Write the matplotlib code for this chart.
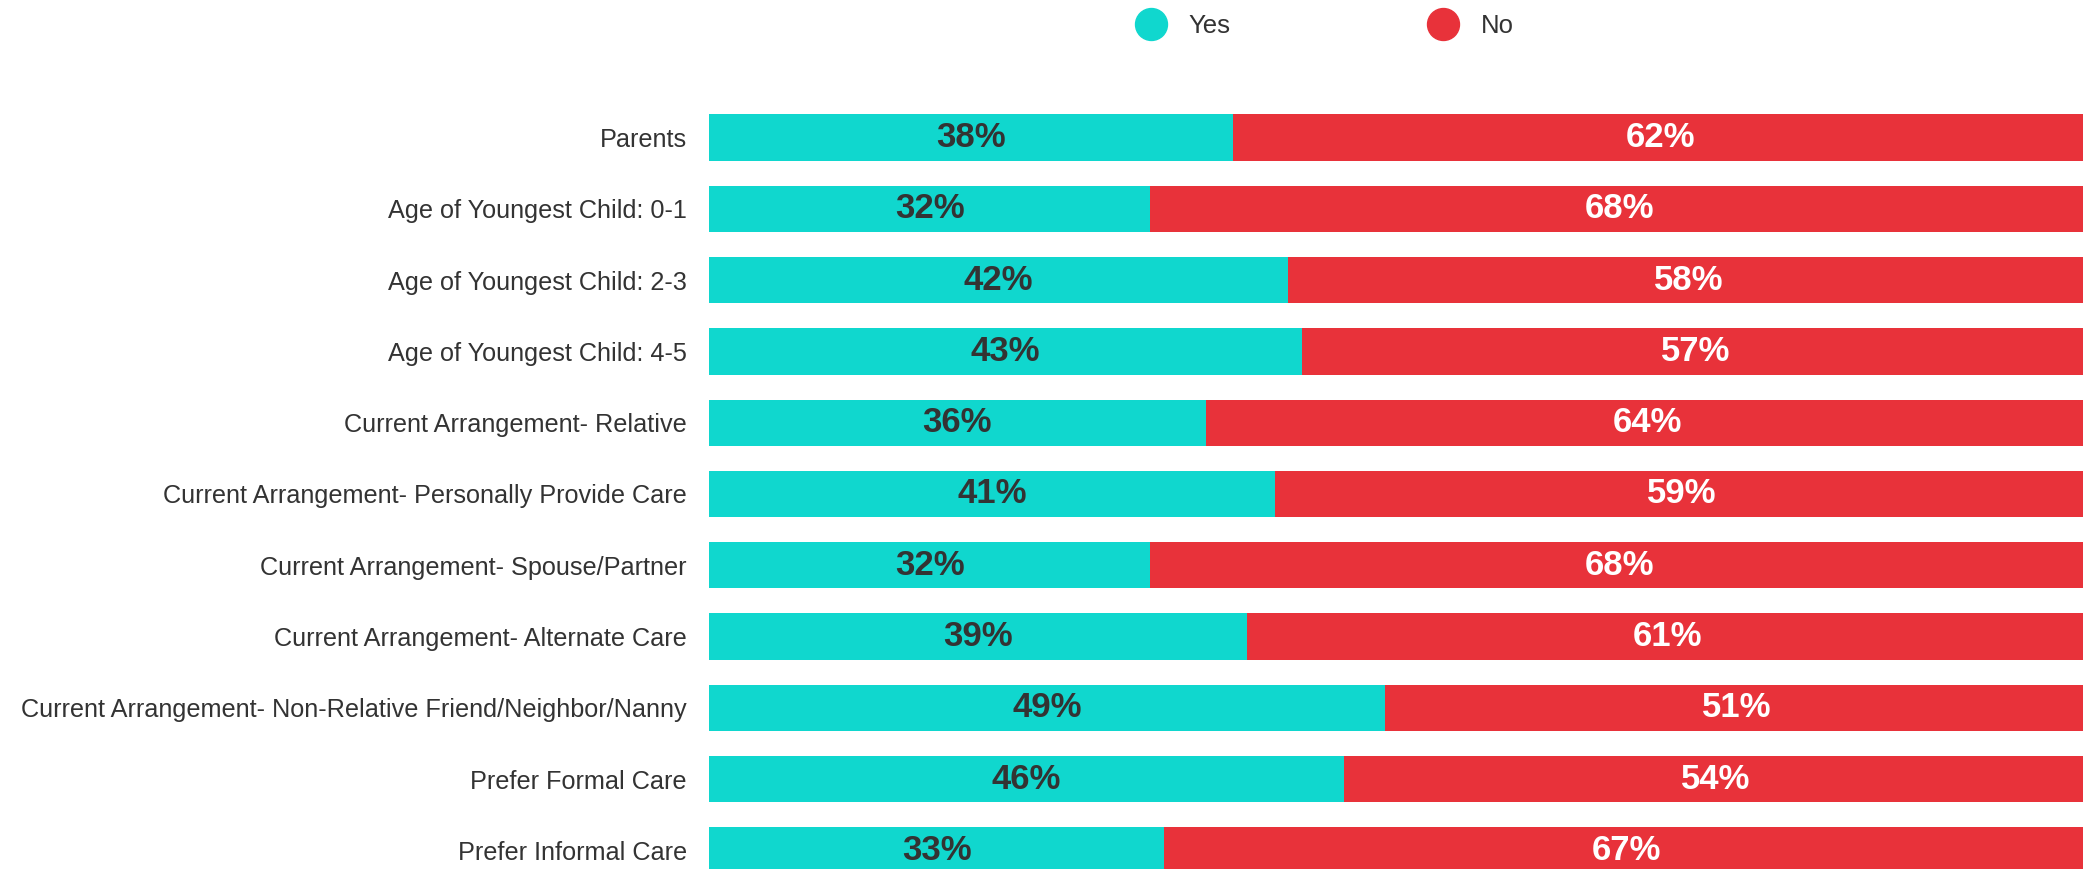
import matplotlib.pyplot as plt
from matplotlib.lines import Line2D

# Data
categories = [
    "Parents",
    "Age of Youngest Child: 0-1",
    "Age of Youngest Child: 2-3",
    "Age of Youngest Child: 4-5",
    "Current Arrangement- Relative",
    "Current Arrangement- Personally Provide Care",
    "Current Arrangement- Spouse/Partner",
    "Current Arrangement- Alternate Care",
    "Current Arrangement- Non-Relative Friend/Neighbor/Nanny",
    "Prefer Formal Care",
    "Prefer Informal Care",
]
yes_values = [38, 32, 42, 43, 36, 41, 32, 39, 49, 46, 33]
no_values = [62, 68, 58, 57, 64, 59, 68, 61, 51, 54, 67]
series_labels = ["Yes", "No"]

YES_COLOR = "#10D7CE"
NO_COLOR = "#E8323A"
TEXT_COLOR = "#333333"
FONT = ["Liberation Sans", "DejaVu Sans"]

W, H, DPI = 2083, 869, 100
fig = plt.figure(figsize=(W / DPI, H / DPI), dpi=DPI)

# axes placed in pixel terms, last bar runs off the bottom like the original
left_px, top_px, bottom_px = 709, 101.9, 886
ax = fig.add_axes([left_px / W, 1 - bottom_px / H, 1 - left_px / W, (bottom_px - top_px) / H])

ypos = list(range(len(categories)))
ax.barh(ypos, yes_values, height=0.65, color=YES_COLOR, label=series_labels[0])
ax.barh(ypos, no_values, left=yes_values, height=0.65, color=NO_COLOR, label=series_labels[1])

for y, yv, nv in zip(ypos, yes_values, no_values):
    ax.text(yv / 2, y, f"{yv}%", ha="center", va="center", fontsize=25,
            fontweight="bold", color=TEXT_COLOR, family=FONT)
    ax.text(yv + nv / 2, y, f"{nv}%", ha="center", va="center", fontsize=25,
            fontweight="bold", color="white", family=FONT)

ax.set_xlim(0, 99.6)
ax.set_ylim(len(categories) - 0.5, -0.5)
ax.set_yticks(ypos)
ax.set_yticklabels(categories, fontsize=18.2, color=TEXT_COLOR, family=FONT)
ax.tick_params(axis="y", length=0, pad=16)
ax.set_xticks([])
for s in ax.spines.values():
    s.set_visible(False)

handles = [
    Line2D([], [], marker="o", linestyle="none", markersize=23, color=YES_COLOR),
    Line2D([], [], marker="o", linestyle="none", markersize=23, color=NO_COLOR),
]
fig.legend(handles, series_labels, loc="center", bbox_to_anchor=(1326 / W, 1 - 26 / H),
           ncol=2, frameon=False, handlelength=1.0, handletextpad=0.97,
           columnspacing=7.75, prop={"family": FONT, "size": 18.5},
           labelcolor=TEXT_COLOR)

fig.savefig("out.png", dpi=DPI)
